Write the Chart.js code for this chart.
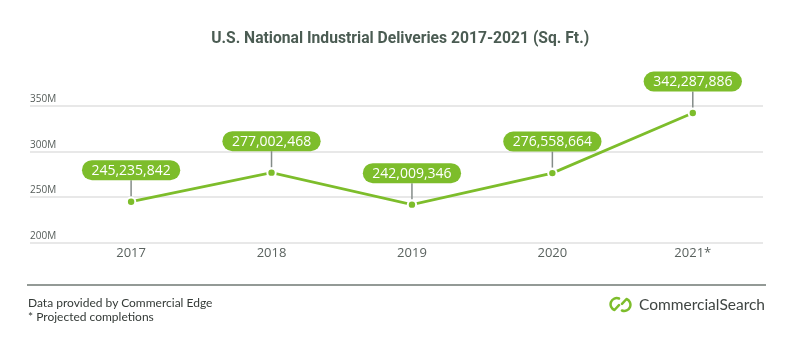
<!DOCTYPE html>
<html>
<head>
<meta charset="utf-8">
<script src="https://cdn.jsdelivr.net/npm/chart.js@4/dist/chart.umd.min.js"></script>
<style>
  html, body { margin: 0; padding: 0; background: #ffffff; }
  #wrap { position: relative; width: 800px; height: 338px; overflow: hidden; background: #fff; }
  #c { position: absolute; left: 0; top: 0; }
  #title { position: absolute; top: 28px; left: 0; width: 800px; text-align: center;
    font-family: Roboto, sans-serif; font-weight: 700; font-size: 16px; line-height: 20px; color: #4b5c53; white-space: nowrap; }
  #title span { display: inline-block; transform-origin: center center; }
  #rule { position: absolute; left: 27px; top: 284px; width: 739px; height: 2px; background: #939a96; }
  #notes { position: absolute; left: 28px; top: 296px; font-family: Lato, sans-serif; font-size: 12px; line-height: 14px; color: #343a37; }
  #logo { position: absolute; left: 609px; top: 295px; height: 18px; display: flex; align-items: center; }
  #logo span { font-family: Lato, sans-serif; font-size: 15.5px; color: #3f4542; margin-left: 7px; }
</style>
</head>
<body>
<div id="wrap">
  <canvas id="c" width="800" height="338"></canvas>
  <div id="title"><span id="tspan">U.S. National Industrial Deliveries 2017-2021 (Sq. Ft.)</span></div>
  <div id="rule"></div>
  <div id="notes">Data provided by Commercial Edge<br>* Projected completions</div>
  <div id="logo">
    <svg width="23" height="17" viewBox="0 0 23 17">
      <path d="M10 2.5 A6 6 0 0 0 5.5 14 L10 9.2" fill="none" stroke="#7dbd2b" stroke-width="2.5" stroke-linecap="round" stroke-linejoin="round"/>
      <path d="M13 14.5 A6 6 0 0 0 17.5 3 L13 7.8" fill="none" stroke="#7dbd2b" stroke-width="2.5" stroke-linecap="round" stroke-linejoin="round"/>
    </svg>
    <span>CommercialSearch</span>
  </div>
</div>
<script>
// ---- data ----
const categories = ['2017', '2018', '2019', '2020', '2021*'];
const deliveries = [245235842, 277002468, 242009346, 276558664, 342287886];
const yTickValues = [200000000, 250000000, 300000000, 350000000];
const yTickLabels = ['200M', '250M', '300M', '350M'];

// fit title width to the condensed look of the reference
(function () {
  const s = document.getElementById('tspan');
  const w = s.getBoundingClientRect().width;
  const target = 378;
  s.style.transform = 'scaleX(' + (target / w) + ')';
})();

const GREEN = '#7dbd2b';

const pillPlugin = {
  id: 'pills',
  afterDatasetsDraw(chart) {
    const ctx = chart.ctx;
    const meta = chart.getDatasetMeta(0);
    ctx.save();
    ctx.font = '14px "Open Sans", sans-serif';
    meta.data.forEach((pt, i) => {
      const txt = deliveries[i].toLocaleString('en-US');
      const tw = ctx.measureText(txt).width;
      const w = tw + 19, h = 20, r = 10;
      const cx = pt.x, cy = pt.y - 31.5;
      // connector
      ctx.strokeStyle = '#848c89';
      ctx.lineWidth = 1.5;
      ctx.beginPath();
      ctx.moveTo(cx, cy + h / 2);
      ctx.lineTo(cx, pt.y - 5.5);
      ctx.stroke();
      // pill
      ctx.fillStyle = GREEN;
      ctx.beginPath();
      ctx.roundRect(cx - w / 2, cy - h / 2, w, h, r);
      ctx.fill();
      ctx.fillStyle = '#ffffff';
      ctx.textAlign = 'center';
      ctx.textBaseline = 'middle';
      ctx.fillText(txt, cx, cy + 0.5);
    });
    ctx.restore();
  }
};

new Chart(document.getElementById('c'), {
  type: 'line',
  data: {
    datasets: [{
      data: deliveries.map((v, i) => ({ x: i, y: v })),
      borderColor: GREEN,
      borderWidth: 2.8,
      backgroundColor: GREEN,
      pointBackgroundColor: GREEN,
      pointBorderColor: '#ffffff',
      pointBorderWidth: 2,
      pointRadius: 4.2,
      tension: 0,
      fill: false,
      clip: false
    }]
  },
  options: {
    responsive: false,
    animation: false,
    devicePixelRatio: 1,
    layout: { padding: { top: 106, left: 30, right: 37, bottom: 70 } },
    plugins: { legend: { display: false }, tooltip: { enabled: false }, title: { display: false } },
    scales: {
      x: {
        type: 'linear',
        min: -0.72,
        max: 4.5,
        grid: { display: false, drawTicks: false },
        border: { display: false },
        afterFit(scale) { scale.height = 25; },
        afterBuildTicks(scale) { scale.ticks = categories.map((c, i) => ({ value: i })); },
        ticks: {
          autoSkip: false,
          maxRotation: 0,
          padding: 2,
          color: '#5a625f',
          font: { family: '"Open Sans", sans-serif', size: 13 },
          callback: (v) => categories[v]
        }
      },
      y: {
        min: 200000000,
        max: 350000000,
        afterBuildTicks(scale) { scale.ticks = yTickValues.map(v => ({ value: v })); },
        grid: { color: '#e8e8e8', lineWidth: 2, drawTicks: false, tickLength: 0 },
        border: { display: false },
        ticks: {
          mirror: true,
          padding: 0,
          labelOffset: -7,
          color: '#555c59',
          font: { family: '"Open Sans", sans-serif', size: 10 },
          callback: (v) => yTickLabels[yTickValues.indexOf(v)]
        }
      }
    }
  },
  plugins: [pillPlugin]
});
</script>
</body>
</html>
